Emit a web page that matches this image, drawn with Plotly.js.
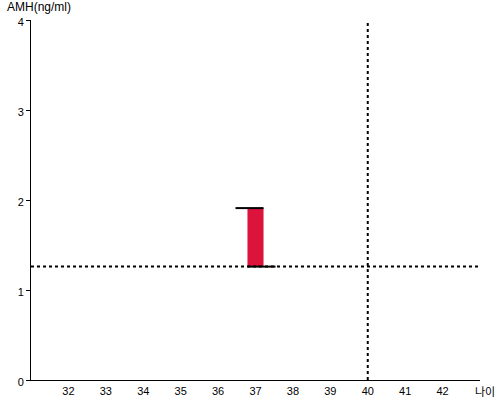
<!DOCTYPE html>
<html><head><meta charset="utf-8">
<script src="https://cdn.plot.ly/plotly-3.0.1.min.js"></script>
<style>html,body{margin:0;padding:0;background:#fff}#chart{width:500px;height:400px}</style>
</head><body><div id="chart"></div>
<script>
const ages = [37];
const amhLow = [1.26];
const amhHigh = [1.91];
const refAge = 40;
const refAMH = 1.26;
const xTicks = [32,33,34,35,36,37,38,39,40,41,42];
const yTicks = [0,1,2,3,4];
const xRange = [31, 43];
const yRange = [0, 4];

const barWidth = 0.43;
const capLen = 0.75;

const traces = [
  {type:'bar', x:ages, base:amhLow, y:ages.map((a,i)=>amhHigh[i]-amhLow[i]), width:barWidth,
   marker:{color:'#DC143C', line:{width:0}}, hoverinfo:'skip'},
  {type:'scatter', mode:'lines', x:[ages[0]+barWidth/2-capLen, ages[0]+barWidth/2], y:[amhHigh[0], amhHigh[0]],
   line:{color:'#000', width:2}, hoverinfo:'skip'},
  {type:'scatter', mode:'lines', x:[ages[0]-barWidth/2, ages[0]-barWidth/2+capLen], y:[amhLow[0], amhLow[0]],
   line:{color:'#000', width:2}, hoverinfo:'skip'},
  {type:'scatter', mode:'lines', x:xRange, y:[refAMH, refAMH], line:{color:'#000', width:2, dash:'dot'}, hoverinfo:'skip'},
  {type:'scatter', mode:'lines', x:[refAge, refAge], y:yRange, line:{color:'#000', width:2, dash:'dot'}, hoverinfo:'skip'}
];

const layout = {
  width:500, height:400,
  margin:{l:31, r:20, t:20, b:20},
  showlegend:false,
  paper_bgcolor:'#fff', plot_bgcolor:'#fff',
  font:{family:'Liberation Sans, Arial, sans-serif', size:11, color:'#000'},
  xaxis:{range:xRange, tickvals:xTicks, ticktext:xTicks.map(String), showgrid:false, zeroline:false,
         showline:true, linecolor:'#000', linewidth:1, ticks:'', ticklabelstandoff:1},
  yaxis:{range:yRange, tickvals:yTicks, ticktext:yTicks.map(String), showgrid:false, zeroline:false,
         showline:true, linecolor:'#000', linewidth:1, ticks:'outside', ticklen:4, tickcolor:'#000',
         ticklabelshift:2},
  annotations:[
    {text:'AMH(ng/ml)', xref:'paper', yref:'paper', x:-0.058, y:1.0, xanchor:'left', yanchor:'bottom', yshift:4,
     showarrow:false, font:{size:12, color:'#000'}},
    {text:'나이', xref:'paper', yref:'paper', x:1.0, y:0, xanchor:'left', yanchor:'middle', xshift:-7, yshift:-11,
     showarrow:false, font:{size:11, color:'#000', family:'Noto Sans CJK KR'}}
  ]
};
Plotly.newPlot('chart', traces, layout, {staticPlot:true, displayModeBar:false});
</script></body></html>
